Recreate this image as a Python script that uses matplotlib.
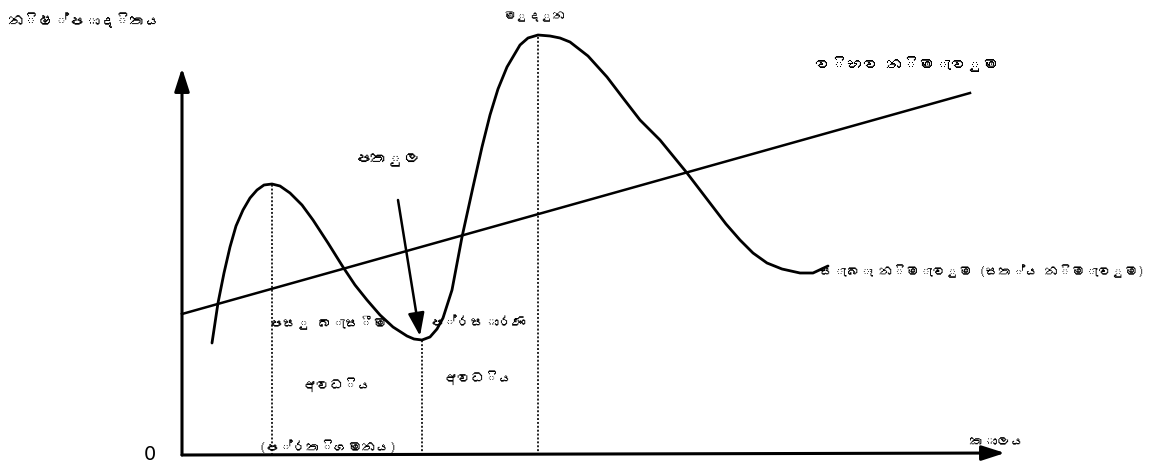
import matplotlib
matplotlib.use("Agg")
import matplotlib.pyplot as plt
from matplotlib import font_manager
from matplotlib.ft2font import FT2Font

# 
# 実際の産出量（景気循環）と潜在産出量の図
# 単位: 横軸 = 時間, 縦軸 = 産出量 (原点 = 軸の交点)

time_pts = [3.0, 3.6, 4.2, 4.8, 5.4, 6.1, 6.8, 7.5, 8.2, 9.0, 9.8, 10.8, 12.0,
            13.1, 14.6, 16.1, 17.3, 18.5, 19.8, 21.1, 22.5, 23.2, 24.0, 24.8,
            25.5, 26.1, 27.0, 28.0, 29.1, 30.0, 30.8, 31.6, 32.5, 33.8, 34.6, 35.6,
            36.8, 37.8, 38.8, 40.6, 42.5, 44.1, 45.8, 47.8, 50.5, 51.8, 53.1,
            54.4, 55.8, 57.1, 58.5, 60.0, 61.8, 63.1, 64.6]
output_pts = [11.2, 15.2, 18.2, 20.8, 22.9, 24.5, 25.7, 26.5, 27.0, 27.1, 26.9, 26.2, 25.0,
              23.5, 21.2, 18.8, 17.0, 15.5, 14.0, 12.8, 11.9, 11.6, 11.5, 11.8,
              12.6, 13.7, 16.5, 21.8, 26.8, 30.8, 34.0, 36.6, 38.8, 41.0, 41.7, 42.0,
              41.9, 41.7, 41.3, 39.9, 37.8, 35.7, 33.5, 31.5, 28.2, 26.5, 24.8,
              23.1, 21.5, 20.2, 19.2, 18.6, 18.2, 18.2, 18.9]

potential_t = [0.0, 78.8]
potential_y = [14.1, 36.2]

# 山・谷の位置（点線）
peak1 = (9.0, 27.1)
trough = (24.0, 11.5)
peak2 = (35.6, 42.0)

lbl_y = "නිෂ්පාදිතය"
lbl_x = "කාලය"
lbl_peak = "මුදුන"
lbl_trough = "පතුල"
lbl_potential = "විභව නිමැවුම"
lbl_actual = "සැබෑ නිමැවුම (සත්‍ය නිමැවුම)"
lbl_recession = ["පසු බැසීම", "අවධිය", "(ප්‍රතිගමනය)"]
lbl_expansion = ["ප්‍රසාරණ", "අවධිය"]


def sinhala_font():
    for f in font_manager.findSystemFonts():
        try:
            if 0x0DC3 in FT2Font(f).get_charmap():
                return font_manager.FontProperties(fname=f).get_name()
        except Exception:
            pass
    return None


fam = sinhala_font()
plt.rcParams['font.family'] = ([fam] if fam else []) + ['DejaVu Sans']


def si(s):
    # ZWJ は描けないので外す
    return s.replace("\u200d", "")


fig = plt.figure(figsize=(11.65, 4.68), dpi=100)
ax = fig.add_axes([0, 0, 1, 1])
ax.set_xlim(-18.2, 98.3)
ax.set_ylim(-1.3, 45.5)
ax.axis('off')

# 軸
ax.annotate("", xy=(0, 38.7), xytext=(0, 0),
            arrowprops=dict(arrowstyle="-|>,head_length=1.4,head_width=0.45",
                            lw=2.2, color='black', shrinkA=0, shrinkB=0))
ax.annotate("", xy=(82.3, 0.2), xytext=(0, 0),
            arrowprops=dict(arrowstyle="-|>,head_length=1.4,head_width=0.45",
                            lw=2.2, color='black', shrinkA=0, shrinkB=0))

# 点線
for t, y in (peak1, trough, peak2):
    ax.plot([t, t], [0, y], ls=(0, (1, 1.0)), lw=1.4, color='#222222')

# 曲線と潜在産出量
ax.plot(time_pts, output_pts, color='black', lw=2.0, solid_joinstyle='round',
        solid_capstyle='round')
ax.plot(potential_t, potential_y, color='black', lw=1.8)

# 谷の矢印
ax.annotate("", xy=(trough[0] - 0.2, trough[1] + 0.4), xytext=(21.6, 25.5),
            arrowprops=dict(arrowstyle="-|>,head_length=1.4,head_width=0.5",
                            lw=1.8, color='black', shrinkA=0, shrinkB=0))

# ラベル
ax.text(-17.4, 43.5, si(lbl_y), fontsize=11, ha='left', va='center')
ax.text(-3.2, 0.1, "0", fontsize=14, ha='center', va='center', family='DejaVu Sans')
ax.text(81.5, 1.3, si(lbl_x), fontsize=10, ha='center', va='center')
ax.text(35.3, 43.8, si(lbl_peak), fontsize=9, ha='center', va='center')
ax.text(20.6, 29.5, si(lbl_trough), fontsize=12, ha='center', va='center')
ax.text(63.3, 39.1, si(lbl_potential), fontsize=11.5, ha='left', va='center')
ax.text(63.8, 18.4, si(lbl_actual), fontsize=9.5, ha='left', va='center')
ax.text(14.6, 13.2, si(lbl_recession[0]), fontsize=10, ha='center', va='center')
ax.text(15.5, 7.0, si(lbl_recession[1]), fontsize=10, ha='center', va='center')
ax.text(14.6, 0.8, si(lbl_recession[2]), fontsize=10, ha='center', va='center')
ax.text(29.6, 13.2, si(lbl_expansion[0]), fontsize=10, ha='center', va='center')
ax.text(29.6, 7.7, si(lbl_expansion[1]), fontsize=10, ha='center', va='center')

fig.savefig("out.png", dpi=100, facecolor='white')
